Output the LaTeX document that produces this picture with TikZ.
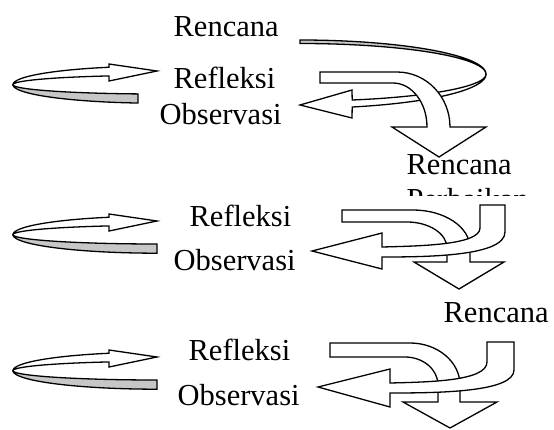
\documentclass[tikz,border=0pt]{standalone}
\usepackage{fontspec}
\setmainfont{Liberation Serif}
\usepackage{tikz}
\usetikzlibrary{positioning}

\begin{document}
\begin{tikzpicture}[x=1pt, y=-1pt, line width=1.3pt, line join=miter,
  teks/.style={font=\fontsize{30.5}{35}\selectfont, inner sep=0, anchor=base west},
  panah/.style={draw, fill=white},
  balik/.style={draw, fill=black!22},
  pics/pita/.style={code={
    \filldraw[balik] plot[samples=40, domain=180:#1] ({144*cos(\x)},{18.5*sin(\x)}) -- plot[samples=40, domain=#1:180] ({144*cos(\x)},{9.3*sin(\x)}) -- cycle;
    \filldraw[panah] (-48,-3.7) -- (0,-13.7) -- (-48,-20.7) -- plot[samples=40, domain=250.53:180] ({144*cos(\x)},{18.5*sin(\x)}) -- plot[samples=40, domain=180:250.53] ({144*cos(\x)},{9.3*sin(\x)}) -- cycle;
  }}]
\useasboundingbox (0,0) rectangle (554,430);
% siklus 1
\filldraw[balik] plot[samples=40, domain=270:360] ({300+186*cos(\x)},{74.2+34.2*sin(\x)}) -- plot[samples=40, domain=360:270] ({300+186*cos(\x)},{74.2+30.7*sin(\x)}) -- cycle;
\filldraw[panah] (352,118) -- (300,105) -- (352,90) -- plot[samples=40, domain=73.7:0] ({300+186*cos(\x)},{74.2+26.9*sin(\x)}) -- plot[samples=40, domain=0:73.7] ({300+186*cos(\x)},{74.2+34.2*sin(\x)}) -- cycle;
\filldraw[panah] (320,72) -- (397,72) .. controls (426.3,72) and (450,96.6) .. (450,127) -- (486,127) -- (439,157) -- (392,127) -- (427,127) .. controls (427,102.7) and (411.8,83) .. (393,83) -- (320,83) -- cycle;
\pic at (157,84.7) {pita=97.6};
\node[teks] (ren1) at (173,37) {Rencana};
\begin{scope}
\clip (150,50) rectangle (300,88);
\node[teks] (ref1) at (173,89) {Refleksi};
\end{scope}
\node[teks] (obs1) at (159,125) {Observasi};
% siklus 2
\pic at (157,234.7) {pita=90};
\filldraw[panah] (342,210) -- (413,210) .. controls (444.5,210) and (470,227) .. (470,248) -- (470,262) -- (504,262) -- (459,289) -- (414,262) -- (447,262) -- (447,248) .. controls (447,233.6) and (429,222) .. (407,222) -- (342,222) -- cycle;
\filldraw[panah] (480,205) -- (505,205) -- (505,232) .. controls (505,256) and (430,257) .. (382,257) -- (382,269) -- (312,251) -- (382,233) -- (382,247) .. controls (420,246) and (480,245) .. (480,228) -- cycle;
\node[teks] (ren2) at (406,175) {Rencana};
\begin{scope}
\clip (400,180) rectangle (554,196);
\node[teks] (per2) at ([yshift=-35pt]ren2.base west) {Perbaikan};
\end{scope}
\node[teks] (ref2) at (189,227) {Refleksi};
\node[teks] (obs2) at (173,270.5) {Observasi};
% siklus 3
\pic at (157,370.7) {pita=90};
\filldraw[panah] (330,343) -- (410,343) .. controls (437.6,343) and (460,361.8) .. (460,385) -- (460,402) -- (497,402) -- (450,428) -- (403,402) -- (438,402) -- (438,385) .. controls (438,369.5) and (423.2,357) .. (405,357) -- (330,357) -- cycle;
\filldraw[panah] (487,342) -- (514,342) -- (514,370) .. controls (514,392) and (440,393) .. (390,393) -- (390,407) -- (318,387) -- (390,369) -- (390,383) .. controls (430,382) and (487,381) .. (487,362) -- cycle;
\node[teks] (ren3) at (443,323) {Rencana};
\node[teks] (ref3) at (188,360) {Refleksi};
\node[teks] (obs3) at (177,405) {Observasi};
\end{tikzpicture}
\end{document}
